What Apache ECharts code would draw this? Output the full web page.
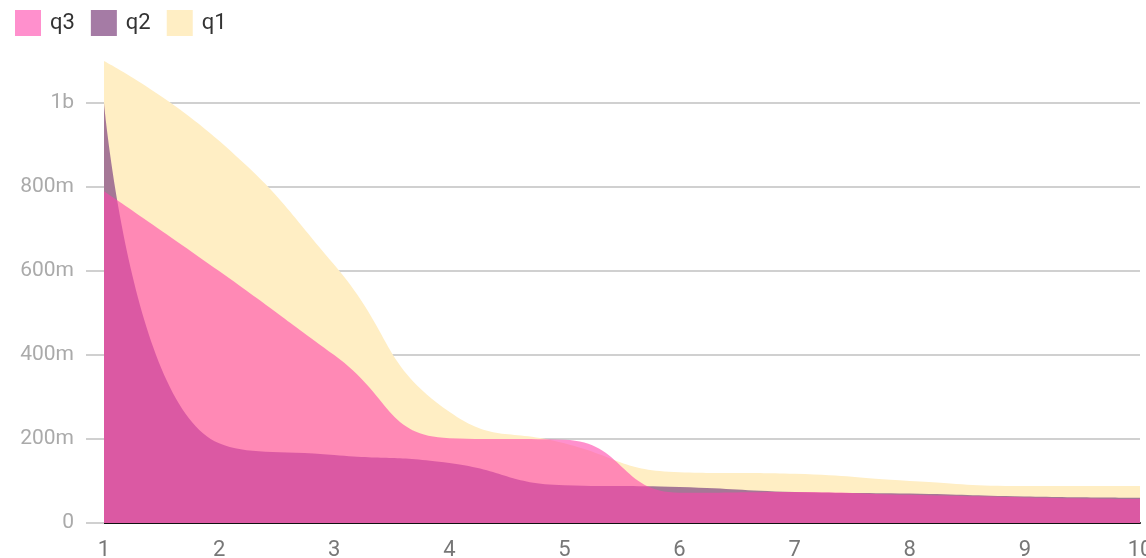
<!DOCTYPE html>
<html>
<head>
<meta charset="utf-8">
<script src="https://cdn.jsdelivr.net/npm/echarts@6/dist/echarts.min.js"></script>
<style>
  html, body { margin: 0; padding: 0; background: #fff; }
  #chart { width: 1146px; height: 558px; }
</style>
</head>
<body>
<div id="chart"></div>
<script>
// values in millions
const xValues = [1, 2, 3, 4, 5, 6, 7, 8, 9, 10]
const q1 = [1100, 910, 615, 265, 190, 121, 117, 100, 88, 88]
const q2 = [1000, 190, 162, 143, 90, 86, 74, 70, 63, 60]
const q3 = [790, 600, 400, 202, 198, 72, 74, 67, 61, 57]
const legendNames = ['q3', 'q2', 'q1']

function toPairs(vals) {
  return vals.map((v, i) => [xValues[i], v])
}

function fmtY(v) {
  if (v === 0) return '0'
  if (v >= 1000) return (v / 1000) + 'b'
  return v + 'm'
}

function areaSeries(name, vals, swatch, fill, z) {
  return {
    name: name,
    type: 'line',
    data: toPairs(vals),
    smooth: true,
    clip: false,
    z: z,
    showSymbol: false,
    symbol: 'none',
    itemStyle: { color: swatch },
    lineStyle: { width: 0 },
    areaStyle: { color: fill, opacity: 1 }
  }
}

const chart = echarts.init(document.getElementById('chart'))
chart.setOption({
  animation: false,
  backgroundColor: '#fff',
  textStyle: { fontFamily: 'Roboto' },
  legend: {
    data: legendNames,
    left: 10,
    top: 5,
    icon: 'rect',
    itemWidth: 26,
    itemHeight: 26,
    itemGap: 16,
    textStyle: { fontSize: 22, color: '#333', fontFamily: 'Roboto', padding: [4, 0, 0, 4] }
  },
  grid: { left: 104, right: 6, top: 103, bottom: 35, outerBoundsMode: 'none' },
  xAxis: {
    type: 'value',
    min: 1,
    max: 10,
    interval: 1,
    axisLine: { show: true, lineStyle: { color: '#111', width: 2 } },
    axisTick: { show: false },
    splitLine: { show: false },
    axisLabel: { fontSize: 22, color: '#777', margin: 16, fontFamily: 'Roboto' }
  },
  yAxis: {
    type: 'value',
    min: 0,
    max: 1000,
    interval: 200,
    axisLine: { show: false },
    axisTick: { show: true, length: 18, lineStyle: { color: '#d0d0d0', width: 2 } },
    splitLine: { show: true, lineStyle: { color: '#d0d0d0', width: 2 } },
    axisLabel: { fontSize: 21, color: '#aaa', margin: 30, formatter: fmtY, fontFamily: 'Roboto' }
  },
  series: [
    areaSeries('q1', q1, '#ffeec4', '#ffeec4', 1),
    areaSeries('q2', q2, '#a57ba5', 'rgba(135,79,135,0.75)', 2),
    areaSeries('q3', q3, '#ff90cd', 'rgba(255,70,172,0.6)', 3)
  ]
})
</script>
</body>
</html>
